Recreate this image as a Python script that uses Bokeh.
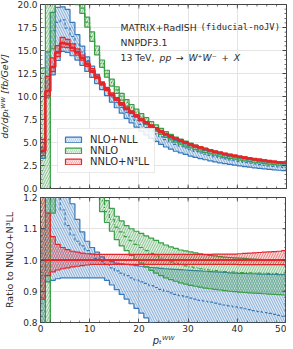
import numpy as np
from bokeh.plotting import figure
from bokeh.layouts import column
from bokeh.models import Range1d, FixedTicker, PrintfTickFormatter, Legend, LegendItem, Label
from bokeh.embed import file_html
from bokeh.resources import INLINE

# ---------------- data ----------------
bin_edges = list(range(0, 51))  # pT^WW bins, GeV

# NNLO+N3LL central spectrum [fb/GeV]
nnlo_n3ll = [4.1, 10.6, 13.2, 14.8, 15.8, 15.7, 15.3, 14.8, 14.2, 13.5,
             12.8, 12.1, 11.4, 10.8, 10.2, 9.7, 9.2, 8.7, 8.3, 7.9,
             7.5, 7.15, 6.8, 6.5, 6.2, 5.9, 5.65, 5.4, 5.2, 5.0,
             4.8, 4.62, 4.45, 4.3, 4.15, 4.0, 3.88, 3.76, 3.65, 3.55,
             3.45, 3.36, 3.27, 3.19, 3.11, 3.04, 2.97, 2.91, 2.85, 2.8]
# NNLO+N3LL band, ratio to its own central value
nnlo_n3ll_lo = [0.875, 0.95, 0.962, 0.968, 0.972, 0.975, 0.978, 0.98, 0.982, 0.984,
                0.986, 0.986, 0.986, 0.986, 0.986, 0.986, 0.986, 0.986, 0.986, 0.986,
                0.986, 0.986, 0.986, 0.986, 0.986, 0.986, 0.986, 0.986, 0.986, 0.986,
                0.986, 0.986, 0.986, 0.986, 0.986, 0.986, 0.986, 0.986, 0.986, 0.986,
                0.985, 0.985, 0.985, 0.985, 0.985, 0.985, 0.985, 0.985, 0.985, 0.985]
nnlo_n3ll_hi = [1.3, 1.15, 1.075, 1.05, 1.04, 1.033, 1.028, 1.025, 1.022, 1.02,
                1.019, 1.018, 1.018, 1.018, 1.018, 1.018, 1.018, 1.018, 1.018, 1.018,
                1.018, 1.018, 1.018, 1.018, 1.018, 1.018, 1.018, 1.018, 1.018, 1.018,
                1.018, 1.018, 1.018, 1.018, 1.018, 1.019, 1.019, 1.019, 1.019, 1.019,
                1.02, 1.021, 1.022, 1.023, 1.024, 1.025, 1.026, 1.027, 1.028, 1.03]

# NLO+NLL, ratio to NNLO+N3LL
nlo_nll_c = [0.95, 1.15, 1.3, 1.22, 1.16, 1.11, 1.08, 1.06, 1.045, 1.03,
             1.02, 1.005, 0.995, 0.985, 0.975, 0.965, 0.958, 0.95, 0.943, 0.936,
             0.93, 0.925, 0.918, 0.912, 0.906, 0.9, 0.895, 0.89, 0.886, 0.882,
             0.878, 0.875, 0.871, 0.868, 0.865, 0.862, 0.859, 0.856, 0.853, 0.85,
             0.847, 0.844, 0.841, 0.838, 0.835, 0.832, 0.829, 0.826, 0.823, 0.82]
nlo_nll_lo = [0.8, 0.93, 0.935, 0.94, 0.943, 0.943, 0.943, 0.943, 0.943, 0.943,
              0.943, 0.943, 0.943, 0.935, 0.92, 0.905, 0.89, 0.875, 0.86, 0.845,
              0.83, 0.815, 0.8, 0.787, 0.775, 0.765, 0.757, 0.75, 0.745, 0.74,
              0.735, 0.732, 0.73, 0.727, 0.725, 0.722, 0.72, 0.718, 0.716, 0.714,
              0.712, 0.71, 0.708, 0.706, 0.704, 0.702, 0.7, 0.698, 0.696, 0.694]
nlo_nll_hi = [1.1, 1.4, 1.45, 1.33, 1.25, 1.24, 1.18, 1.13, 1.09, 1.06,
              1.04, 1.025, 1.01, 1.0, 0.995, 0.99, 0.988, 0.986, 0.984, 0.982,
              0.98, 0.978, 0.976, 0.975, 0.973, 0.972, 0.971, 0.97, 0.969, 0.968,
              0.967, 0.966, 0.965, 0.964, 0.963, 0.962, 0.961, 0.96, 0.959, 0.958,
              0.957, 0.957, 0.956, 0.956, 0.955, 0.955, 0.954, 0.954, 0.953, 0.953]

# NNLO, ratio to NNLO+N3LL
nnlo_c = [1.0, 0.5, 1.45, 1.5, 1.48, 1.45, 1.43, 1.41, 1.38, 1.34,
          1.29, 1.24, 1.19, 1.155, 1.13, 1.105, 1.09, 1.075, 1.062, 1.05,
          1.04, 1.03, 1.021, 1.013, 1.006, 1.0, 0.994, 0.989, 0.985, 0.981,
          0.978, 0.975, 0.972, 0.97, 0.968, 0.966, 0.964, 0.963, 0.962, 0.961,
          0.96, 0.96, 0.959, 0.959, 0.958, 0.958, 0.957, 0.957, 0.956, 0.956]
nnlo_lo = [-0.3, -0.2, 1.15, 1.38, 1.38, 1.37, 1.36, 1.35, 1.34, 1.3,
           1.25, 1.2, 1.155, 1.12, 1.092, 1.065, 1.045, 1.03, 1.015, 1.0,
           0.99, 0.978, 0.967, 0.958, 0.95, 0.943, 0.937, 0.932, 0.927, 0.923,
           0.919, 0.916, 0.913, 0.91, 0.908, 0.906, 0.904, 0.902, 0.9, 0.899,
           0.897, 0.896, 0.895, 0.894, 0.893, 0.892, 0.891, 0.89, 0.889, 0.888]
nnlo_hi = [3.2, 2.3, 1.75, 1.62, 1.58, 1.53, 1.5, 1.47, 1.42, 1.38,
           1.33, 1.28, 1.225, 1.19, 1.165, 1.14, 1.125, 1.11, 1.1, 1.092,
           1.085, 1.077, 1.07, 1.063, 1.055, 1.048, 1.042, 1.037, 1.032, 1.029,
           1.026, 1.023, 1.02, 1.017, 1.015, 1.013, 1.011, 1.009, 1.008, 1.007,
           1.006, 1.005, 1.004, 1.003, 1.002, 1.001, 1.0, 1.0, 0.999, 0.999]

x_ticks = [0, 10, 20, 30, 40, 50]
y_ticks_top = [0.0, 2.5, 5.0, 7.5, 10.0, 12.5, 15.0, 17.5, 20.0]
y_ticks_ratio = [0.8, 0.9, 1.0, 1.1, 1.2]
legend_labels = ["NLO+NLL", "NNLO", "NNLO+N\u00b3LL"]

# ---------------- styling ----------------
BLUE = "#3579bd"
GREEN = "#3a9e45"
RED = "#e3262b"
FONT = "DejaVu Sans"
TXT = "#2b2b2b"
AX = "#444444"

FL, FR, FT1, FB1 = 40, 286, 6, 190     # top frame (page px)
FT2, FB2 = 199, 324                    # ratio frame (page px)
TOP_PAD = 10                           # canvas room above the top frame


def tx(px):
    return (px - FL) * 50.0 / (FR - FL)


def ty_top(py):
    return (FB1 - py) * 20.0 / (FB1 - FT1)


xminor = list(np.arange(0, 50.01, 2.0))
yminor_top = list(np.arange(0, 20.01, 0.5))
yminor_ratio = list(np.arange(0.8, 1.2001, 0.02))


def style_axis(ax, ticks, minor, fmt=None):
    ax.ticker = FixedTicker(ticks=ticks, minor_ticks=minor)
    ax.axis_line_color = None
    ax.major_tick_in = 4
    ax.major_tick_out = 0
    ax.minor_tick_in = 2
    ax.minor_tick_out = 0
    ax.major_tick_line_color = AX
    ax.minor_tick_line_color = AX
    ax.major_tick_line_width = 0.8
    ax.minor_tick_line_width = 0.6
    ax.major_label_text_font = FONT
    ax.major_label_text_font_size = "9px"
    ax.major_label_text_color = TXT
    ax.major_label_standoff = 3
    ax.axis_label_text_font = FONT
    ax.axis_label_text_color = TXT
    ax.axis_label_text_font_style = "normal"
    if fmt:
        ax.formatter = PrintfTickFormatter(format=fmt)


def mirror_ticks(p, major, minor, where, edge):
    # inward ticks on unlabeled sides: short bars centred on the frame edge (the frame clips the outer half)
    for vals, ln in ((major, 8), (minor, 4)):
        if where == "x":
            p.rect(x=vals, y=[edge] * len(vals), width=0.8, height=ln, width_units="screen",
                   height_units="screen", fill_color=AX, line_color=None)
        else:
            p.rect(x=[edge] * len(vals), y=vals, width=ln, height=0.8, width_units="screen",
                   height_units="screen", fill_color=AX, line_color=None)


def make_fig(fh, yr, mb_top, mb_bot):
    p = figure(frame_width=FR - FL, frame_height=fh, x_range=Range1d(0, 50), y_range=yr,
               output_backend="svg", toolbar_location=None,
               min_border_left=FL, min_border_right=4, min_border_top=mb_top,
               min_border_bottom=mb_bot, background_fill_color="white",
               border_fill_color="white")
    p.outline_line_color = AX
    p.outline_line_width = 1
    p.xgrid.grid_line_color = "#e4e4e4"
    p.ygrid.grid_line_color = "#e4e4e4"
    return p


edges = np.array(bin_edges, dtype=float)


def ext(a):
    a = np.asarray(a, dtype=float)
    return np.append(a, a[-1])


def draw_series(p, lo, hi, c, color, hatch, dash, cw):
    p.varea_step(x=edges, y1=ext(lo), y2=ext(hi), step_mode="after",
                 fill_color=color, fill_alpha=0.16,
                 hatch_pattern=hatch, hatch_color=color, hatch_alpha=0.75,
                 hatch_scale=5, hatch_weight=0.7)
    p.step(edges, ext(lo), mode="after", line_color=color, line_width=1.2)
    p.step(edges, ext(hi), mode="after", line_color=color, line_width=1.2)
    p.step(edges, ext(c), mode="after", line_color=color, line_width=cw, line_dash=dash)


red = np.array(nnlo_n3ll)
series = [
    (np.array(nlo_nll_lo), np.array(nlo_nll_hi), np.array(nlo_nll_c), BLUE, "\\", "3 2", 1.2),
    (np.array(nnlo_lo), np.array(nnlo_hi), np.array(nnlo_c), GREEN, "/", "4 2 1 2", 1.2),
    (np.array(nnlo_n3ll_lo), np.array(nnlo_n3ll_hi), red / red, RED, "/", "solid", 2.0),
]

# ---------------- top panel ----------------
p1 = make_fig(FB1 - FT1, Range1d(0, 20), TOP_PAD, 5)
style_axis(p1.yaxis[0], y_ticks_top, yminor_top, "%.1f")
p1.yaxis[0].axis_label = "d\u03c3/dp\u209c\u1d42\u1d42 [fb/GeV]"
p1.yaxis[0].axis_label_text_font_size = "9.5px"
p1.yaxis[0].axis_label_text_font_style = "italic"
p1.yaxis[0].axis_label_standoff = 4
p1.xaxis.visible = False
p1.xgrid.ticker = FixedTicker(ticks=x_ticks)

for lo, hi, c, color, hatch, dash, cw in series:
    draw_series(p1, red * lo, red * hi, red * c, color, hatch, dash, cw + (0.6 if color == RED else 0))

mirror_ticks(p1, x_ticks, xminor, "x", 0.0)
mirror_ticks(p1, x_ticks, xminor, "x", 20.0)
mirror_ticks(p1, y_ticks_top, yminor_top, "y", 50.0)

# legend via hidden proxy glyphs
proxies = []
for lo, hi, c, color, hatch, dash, cw in series:
    r = p1.quad(left=[0], right=[0], bottom=[0], top=[0], fill_color=color, fill_alpha=0.35,
                hatch_pattern=hatch, hatch_color="white", hatch_alpha=0.9, hatch_scale=4,
                hatch_weight=0.8, line_color=color, line_width=1.2)
    r.visible = False
    proxies.append(r)
legend = Legend(items=[LegendItem(label=l, renderers=[r]) for l, r in zip(legend_labels, proxies)],
                location=(17, 15), glyph_width=20, glyph_height=7, label_height=10,
                label_standoff=7, spacing=0, padding=5, margin=0,
                label_text_font=FONT, label_text_font_size="10px", label_text_color=TXT,
                background_fill_color="white", background_fill_alpha=0.85,
                border_line_color="#d4d4d4", border_line_width=1,
                inactive_fill_alpha=0.0)
p1.add_layout(legend)

# info text
fs = "9.3px"
p1.add_layout(Label(x=tx(120), y=ty_top(28.5), text="MATRIX+RadISH", text_font=FONT,
                    text_font_size=fs, text_color=TXT, text_baseline="middle"))
p1.add_layout(Label(x=tx(200), y=ty_top(28.5), text="(fiducial-noJV)", text_font="DejaVu Sans Mono",
                    text_font_size="8.8px", text_color=TXT, text_baseline="middle"))
p1.add_layout(Label(x=tx(120), y=ty_top(43.8), text="NNPDF3.1", text_font=FONT,
                    text_font_size=fs, text_color=TXT, text_baseline="middle"))
p1.add_layout(Label(x=tx(120), y=ty_top(58.8), text="13 TeV,", text_font=FONT,
                    text_font_size=fs, text_color=TXT, text_baseline="middle"))
p1.add_layout(Label(x=tx(159), y=ty_top(58.8),
                    text="pp\u2002\u2192\u2002W\u207aW\u207b\u2002+\u2002X", text_font=FONT,
                    text_font_size=fs, text_font_style="italic", text_color=TXT, text_baseline="middle"))

# ---------------- ratio panel ----------------
p2 = make_fig(FB2 - FT2, Range1d(0.8, 1.2), FT2 - (FB1 + 5), 24)
p2.x_range = p1.x_range
style_axis(p2.yaxis[0], y_ticks_ratio, yminor_ratio, "%.1f")
style_axis(p2.xaxis[0], x_ticks, xminor)
p2.yaxis[0].axis_label = "Ratio to NNLO+N\u00b3LL"
p2.yaxis[0].axis_label_text_font_size = "9.5px"
p2.yaxis[0].axis_label_standoff = 5
p2.xaxis[0].axis_label = "p\u209c\u1d42\u1d42"
p2.xaxis[0].axis_label_text_font_size = "10px"
p2.xaxis[0].axis_label_text_font_style = "italic"
p2.xaxis[0].axis_label_standoff = 0
p2.xaxis[0].major_label_standoff = 2

for lo, hi, c, color, hatch, dash, cw in series:
    draw_series(p2, lo, hi, c, color, hatch, dash, cw)

mirror_ticks(p2, x_ticks, xminor, "x", 1.2)
mirror_ticks(p2, y_ticks_ratio, yminor_ratio, "y", 50.0)

# the extra canvas room above the top frame is pulled back up with a negative margin
shift = (TOP_PAD - FT1) // 2 + 4
layout = column(p1, p2, styles={"margin-top": f"-{shift}px", "margin-left": "-4px"})
open("out.html", "w").write(file_html(layout, INLINE))
